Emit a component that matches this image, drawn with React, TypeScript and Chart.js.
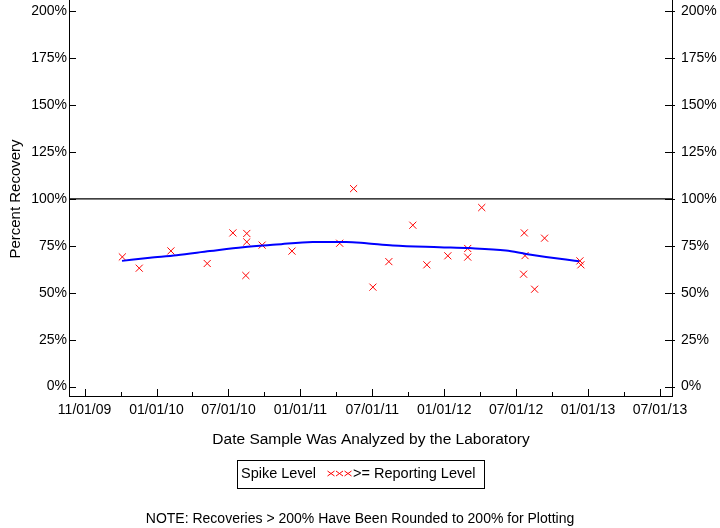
import React, { useEffect, useRef } from "react";
import { Chart, registerables } from "chart.js";
Chart.register(...registerables);

// X axis: months counted from the first labelled tick (ticks every 6 months)
const xTickLabels = ["11/01/09", "01/01/10", "07/01/10", "01/01/11", "07/01/11", "01/01/12", "07/01/12", "01/01/13", "07/01/13"];
const xTickMonths = [0, 6, 12, 18, 24, 30, 36, 42, 48];
const xMinorMonths = [3, 9, 15, 21, 27, 33, 39, 45];
const yTickValues = [0, 25, 50, 75, 100, 125, 150, 175, 200];

// Percent recovery samples (>= reporting level)
const sampleMonths = [3.15, 4.56, 7.2, 10.23, 12.37, 13.53, 13.53, 14.81, 13.45, 17.3, 21.28, 22.44, 24.05, 25.38, 27.38, 28.55, 30.3, 31.96, 31.96, 33.13, 36.68, 36.74, 36.62, 37.54, 38.37, 41.32, 41.4];
const samplePercent = [69.1, 63.1, 72.3, 65.6, 81.9, 81.6, 77.1, 75.4, 59.2, 72.2, 76.4, 105.5, 53.0, 66.6, 86.0, 64.9, 69.7, 73.6, 69.0, 95.4, 81.9, 69.8, 59.9, 51.9, 79.1, 67.0, 64.9];

// Smoothed trend line
const trendMonths = [3.12, 5.45, 7.68, 10.45, 13.22, 16.0, 19.03, 21.83, 23.5, 25.71, 29.6, 32.1, 35.15, 36.82, 38.49, 40.15, 41.26];
const trendPercent = [67.0, 68.6, 70.0, 72.2, 74.3, 75.7, 77.1, 77.1, 76.4, 75.2, 74.3, 73.8, 72.5, 70.7, 69.1, 67.7, 66.8];

const spikeLevel = 100;
const xMin = -1.3;
const xMax = 49;
const yMin = -5;
const yMax = 206;

const FONT = "'Liberation Sans', Arial, sans-serif";

const decorPlugin = {
  id: "decor",
  afterDraw(chart: any) {
    const ctx = chart.ctx as CanvasRenderingContext2D;
    const { left, right, bottom } = chart.chartArea;
    const xs = chart.scales.x;
    const ys = chart.scales.y;
    ctx.save();
    ctx.strokeStyle = "#000";
    ctx.lineWidth = 1;
    ctx.beginPath();
    for (const v of yTickValues) {
      const py = Math.round(ys.getPixelForValue(v)) + 0.5;
      ctx.moveTo(left, py);
      ctx.lineTo(left + 7, py);
      ctx.moveTo(right - 7, py);
      ctx.lineTo(right + 3, py);
    }
    for (const v of xTickMonths) {
      const px = Math.round(xs.getPixelForValue(v)) + 0.5;
      ctx.moveTo(px, bottom);
      ctx.lineTo(px, bottom - 7);
    }
    for (const v of xMinorMonths) {
      const px = Math.round(xs.getPixelForValue(v)) + 0.5;
      ctx.moveTo(px, bottom);
      ctx.lineTo(px, bottom - 4);
    }
    ctx.stroke();

    ctx.fillStyle = "#000";
    ctx.textBaseline = "middle";
    ctx.textAlign = "center";
    ctx.font = `15.5px ${FONT}`;
    ctx.fillText("Date Sample Was Analyzed by the Laboratory", 371, 440);

    ctx.save();
    ctx.translate(16, 199);
    ctx.rotate(-Math.PI / 2);
    ctx.font = `15px ${FONT}`;
    ctx.fillText("Percent Recovery", 0, 0);
    ctx.restore();

    // legend box
    ctx.strokeRect(237.5, 460.5, 247, 28);
    ctx.textAlign = "left";
    ctx.font = `14.5px ${FONT}`;
    ctx.fillText("Spike Level", 241, 474);
    ctx.fillText(">= Reporting Level", 353, 474);
    ctx.strokeStyle = "#ff0000";
    ctx.beginPath();
    for (let i = 0; i < 3; i++) {
      const cx = 331 + i * 8.5;
      ctx.moveTo(cx - 3.5, 471);
      ctx.lineTo(cx + 3.5, 476);
      ctx.moveTo(cx + 3.5, 471);
      ctx.lineTo(cx - 3.5, 476);
    }
    ctx.stroke();

    ctx.textAlign = "center";
    ctx.fillStyle = "#000";
    ctx.font = `14px ${FONT}`;
    ctx.fillText("NOTE: Recoveries > 200% Have Been Rounded to 200% for Plotting", 360, 519);
    ctx.restore();
  },
};

export default function App() {
  const ref = useRef<HTMLCanvasElement | null>(null);
  useEffect(() => {
    if (!ref.current) return;
    const yScaleCommon = {
      type: "linear" as const,
      min: yMin,
      max: yMax,
      grid: { display: false, drawTicks: false },
      border: { display: true, color: "#000", width: 1 },
      afterBuildTicks: (s: any) => {
        s.ticks = yTickValues.map((v) => ({ value: v }));
      },
    };
    const chart = new Chart(ref.current, {
      type: "scatter",
      data: {
        datasets: [
          {
            label: "spike",
            data: [
              { x: xMin, y: spikeLevel },
              { x: xMax, y: spikeLevel },
            ],
            showLine: true,
            borderColor: "#000",
            borderWidth: 1.2,
            pointRadius: 0,
          },
          {
            label: "trend",
            data: trendMonths.map((m, i) => ({ x: m, y: trendPercent[i] })),
            showLine: true,
            borderColor: "#0000ff",
            borderWidth: 2,
            pointRadius: 0,
            cubicInterpolationMode: "monotone",
          },
          {
            label: ">= Reporting Level",
            data: sampleMonths.map((m, i) => ({ x: m, y: samplePercent[i] })),
            showLine: false,
            pointStyle: "crossRot",
            pointRadius: 5,
            borderColor: "#ff0000",
            backgroundColor: "#ff0000",
            borderWidth: 1,
          },
        ],
      },
      options: {
        animation: false,
        responsive: false,
        devicePixelRatio: 1,
        layout: { padding: 0, autoPadding: false },
        plugins: { legend: { display: false }, tooltip: { enabled: false }, title: { display: false } },
        scales: {
          x: {
            type: "linear",
            position: "bottom",
            min: xMin,
            max: xMax,
            grid: { display: false, drawTicks: false },
            border: { display: true, color: "#000", width: 1 },
            afterBuildTicks: (s: any) => {
              s.ticks = xTickMonths.map((v) => ({ value: v }));
            },
            ticks: {
              autoSkip: false,
              maxRotation: 0,
              padding: 6,
              color: "#000",
              font: { family: FONT, size: 14 },
              callback: (v: any) => {
                const i = xTickMonths.indexOf(Number(v));
                return i >= 0 ? xTickLabels[i] : "";
              },
            },
            afterFit: (s: any) => {
              s.height = 132;
              s.paddingLeft = 0;
              s.paddingRight = 0;
            },
          },
          y: {
            ...yScaleCommon,
            position: "left",
            ticks: { padding: 2, color: "#000", font: { family: FONT, size: 14 }, callback: (v: any) => `${v}%` },
            afterFit: (s: any) => {
              s.width = 69;
              s.paddingTop = 0;
              s.paddingBottom = 0;
            },
          },
          y2: {
            ...yScaleCommon,
            position: "right",
            ticks: { padding: 9, color: "#000", font: { family: FONT, size: 14 }, callback: (v: any) => `${v}%` },
            afterFit: (s: any) => {
              s.width = 48;
              s.paddingTop = 0;
              s.paddingBottom = 0;
            },
          },
        },
      },
      plugins: [decorPlugin],
    });
    return () => chart.destroy();
  }, []);
  return (
    <div style={{ position: "absolute", left: 0, top: 0, width: 720, height: 528, background: "#fff" }}>
      <canvas ref={ref} width={720} height={528} style={{ width: 720, height: 528 }} />
    </div>
  );
}
